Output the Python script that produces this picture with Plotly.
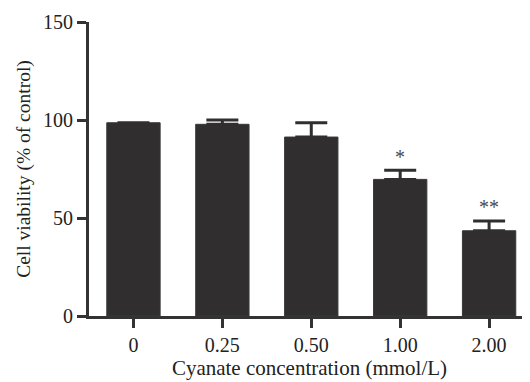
import plotly.graph_objects as go

categories = ["0", "0.25", "0.50", "1.00", "2.00"]
viability = [98.6, 97.8, 91.3, 69.7, 43.5]
sem = [None, 2.2, 7.3, 4.6, 5.0]
significance = ["", "", "", "*", "**"]
sig_y = [0, 0, 0, 81, 55.5]

dark = "#302e2f"
axis_col = "#333333"
font_family = "Liberation Serif, Times New Roman, serif"

fig = go.Figure()
fig.add_trace(go.Bar(
    x=list(range(len(categories))),
    y=viability,
    width=0.6,
    marker=dict(color=dark, line=dict(color="#3a3839", width=1)),
    error_y=dict(type="data", symmetric=False, array=sem,
                 arrayminus=[0] * len(sem), color=dark,
                 thickness=3, width=16, visible=True),
    showlegend=False,
))

for i, (s, yv) in enumerate(zip(significance, sig_y)):
    if s:
        fig.add_annotation(x=i, y=yv, text=s, showarrow=False,
                           xref="x", yref="y",
                           font=dict(family=font_family, size=20, color="#4a4a4a"))

# page body has an 8px default margin, so the figure is 8px smaller
fig.update_layout(
    width=522, height=374,
    margin=dict(l=81, r=0, t=14, b=66, autoexpand=False),
    plot_bgcolor="white", paper_bgcolor="white",
    font=dict(family=font_family, size=20, color="#222222"),
    bargap=0.4,
)
fig.update_xaxes(
    range=[-0.5, 4.46], automargin=False,
    tickmode="array", tickvals=list(range(len(categories))), ticktext=categories,
    showline=True, linecolor=axis_col, linewidth=3,
    ticks="outside", ticklen=9, tickwidth=3, tickcolor=axis_col,
    showgrid=False, zeroline=False,
    tickfont=dict(size=20),
    title=dict(text="Cyanate concentration (mmol/L)", font=dict(size=21), standoff=5),
)
fig.update_yaxes(
    range=[0, 150], automargin=False,
    tickvals=[0, 50, 100, 150],
    showline=True, linecolor=axis_col, linewidth=3,
    ticks="outside", ticklen=9, tickwidth=3, tickcolor=axis_col,
    showgrid=False, zeroline=False,
    tickfont=dict(size=20),
    title=dict(text="Cell viability (% of control)", font=dict(size=19.5), standoff=8),
)

fig.write_html("out.html")
